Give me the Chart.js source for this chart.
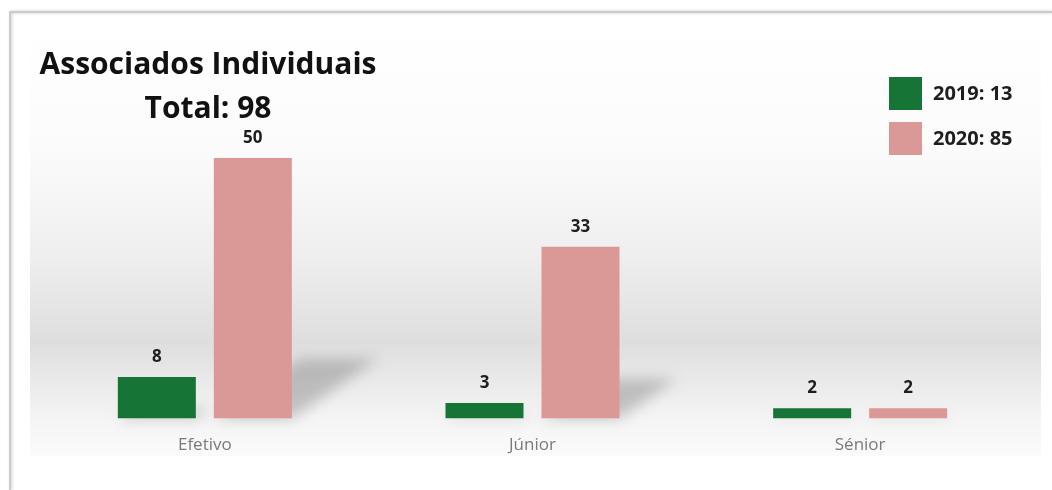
<!DOCTYPE html>
<html>
<head>
<meta charset="utf-8">
<script src="https://cdn.jsdelivr.net/npm/chart.js@4/dist/chart.umd.min.js"></script>
<style>
html, body { margin: 0; padding: 0; background: #fff; }
#wrap { position: relative; width: 1052px; height: 490px; }
</style>
</head>
<body>
<div id="wrap"><canvas id="chart"></canvas></div>
<script>
/* ----------------------------------------------------------------------------------------------------*/
/* 資料 */
var categories = ['Efetivo', 'Júnior', 'Sénior'];
var years = ['2019', '2020'];
var values2019 = [8, 3, 2];
var values2020 = [50, 33, 2];
var titleText = 'Associados Individuais';
var totalText = 'Total';

var barColors = ['#167437', '#da9896'];
var fontFamily = '"Open Sans", "DejaVu Sans", sans-serif';

function sum(arr) { return arr.reduce((a, b) => a + b, 0); }

/* ----------------------------------------------------------------------------------------------------*/
/* 背景、陰影、數值、標題、圖例 */
var decorPlugin = {
    id: 'decor',
    beforeDraw(chart) {
        var ctx = chart.ctx;
        ctx.save();
        ctx.fillStyle = '#ffffff';
        ctx.fillRect(0, 0, chart.width, chart.height);

        // 外框
        ctx.shadowColor = 'rgba(0,0,0,0.3)';
        ctx.shadowBlur = 3;
        ctx.shadowOffsetX = 1;
        ctx.strokeStyle = '#c4c4c4';
        ctx.lineWidth = 1.5;
        ctx.beginPath();
        ctx.moveTo(10, chart.height);
        ctx.lineTo(10, 12);
        ctx.lineTo(chart.width, 12);
        ctx.stroke();
        ctx.restore();

        // 漸層底色
        ctx.save();
        var g = ctx.createLinearGradient(0, 20, 0, 456);
        g.addColorStop(0.00, '#ffffff');
        g.addColorStop(0.30, '#fbfbfb');
        g.addColorStop(0.55, '#eeeeee');
        g.addColorStop(0.74, '#dedede');
        g.addColorStop(0.80, '#e6e6e6');
        g.addColorStop(0.91, '#f4f4f4');
        g.addColorStop(1.00, '#fbfbfb');
        ctx.fillStyle = g;
        ctx.fillRect(30, 20, 1011, 436);
        ctx.restore();
    },
    beforeDatasetsDraw(chart) {
        var ctx = chart.ctx;
        ctx.save();
        ctx.filter = 'blur(7px)';
        ctx.fillStyle = 'rgba(0,0,0,0.2)';
        chart.data.datasets.forEach((ds, i) => {
            chart.getDatasetMeta(i).data.forEach((bar) => {
                var h = bar.base - bar.y;
                var sh = h * 0.23, off = h * 0.33;
                var l = bar.x - bar.width / 2, r = bar.x + bar.width / 2;
                ctx.beginPath();
                ctx.moveTo(l, bar.base);
                ctx.lineTo(r, bar.base);
                ctx.lineTo(r + off, bar.base - sh);
                ctx.lineTo(l + off, bar.base - sh);
                ctx.closePath();
                ctx.fill();
            });
        });
        ctx.restore();
    },
    afterDatasetsDraw(chart) {
        var ctx = chart.ctx;
        ctx.save();
        ctx.font = 'bold 17px ' + fontFamily;
        ctx.fillStyle = '#1e1e1e';
        ctx.textAlign = 'center';
        ctx.textBaseline = 'alphabetic';
        chart.data.datasets.forEach((ds, i) => {
            chart.getDatasetMeta(i).data.forEach((bar, j) => {
                ctx.fillText(String(ds.data[j]), bar.x, bar.y - 15);
            });
        });
        ctx.restore();
    },
    afterDraw(chart) {
        var ctx = chart.ctx;
        var datasets = chart.data.datasets;
        var total = sum(datasets.map((ds) => sum(ds.data)));
        ctx.save();

        // 標題
        ctx.fillStyle = '#111111';
        ctx.font = 'bold 30px ' + fontFamily;
        ctx.textAlign = 'center';
        ctx.fillText(titleText, 208, 74);
        ctx.fillText(totalText + ': ' + total, 208, 118);

        // 圖例
        ctx.textAlign = 'left';
        ctx.textBaseline = 'middle';
        ctx.font = 'bold 20px ' + fontFamily;
        datasets.forEach((ds, i) => {
            var y = 77 + i * 45;
            ctx.fillStyle = ds.backgroundColor;
            ctx.fillRect(889, y, 33, 33);
            ctx.fillStyle = '#1e1e1e';
            ctx.fillText(ds.label + ': ' + sum(ds.data), 933, y + 17);
        });
        ctx.restore();
    }
};

/* ----------------------------------------------------------------------------------------------------*/
/* 繪製圖表 */
var chart = new Chart(document.getElementById('chart'), {
    type: 'bar',
    data: {
        labels: categories,
        datasets: [
            { label: years[0], data: values2019, backgroundColor: barColors[0], barPercentage: 0.8125, categoryPercentage: 0.586 },
            { label: years[1], data: values2020, backgroundColor: barColors[1], barPercentage: 0.8125, categoryPercentage: 0.586 }
        ]
    },
    options: {
        responsive: true,
        maintainAspectRatio: false,
        animation: false,
        devicePixelRatio: 1,
        layout: { padding: { left: 41, right: 28, top: 106, bottom: 19 } },
        scales: {
            x: {
                grid: { display: false, drawTicks: false },
                border: { display: false },
                ticks: { color: '#7a7a7a', padding: 16, font: { family: fontFamily, size: 17 } }
            },
            y: { display: false, min: 0, max: 60 }
        },
        plugins: {
            legend: { display: false },
            tooltip: { enabled: false },
            title: { display: false }
        }
    },
    plugins: [decorPlugin]
});
</script>
</body>
</html>
